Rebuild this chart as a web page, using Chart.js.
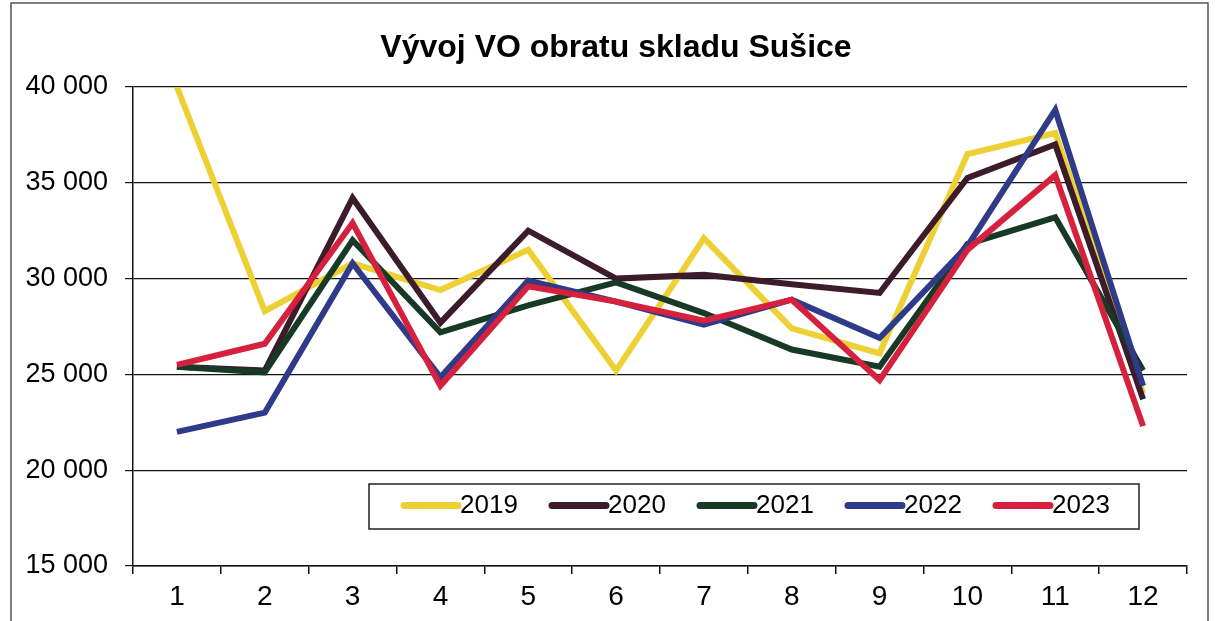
<!DOCTYPE html>
<html>
<head>
<meta charset="utf-8">
<script src="https://cdn.jsdelivr.net/npm/chart.js@4/dist/chart.umd.min.js"></script>
<style>
html,body{margin:0;padding:0;background:#fff;}
#wrap{position:relative;width:1216px;height:621px;}
</style>
</head>
<body>
<div id="wrap"><canvas id="c" width="1216" height="621"></canvas></div>
<script>
const titleText = "Vývoj VO obratu skladu Sušice";
const categories = ["1","2","3","4","5","6","7","8","9","10","11","12"];
const seriesNames = ["2019","2020","2021","2022","2023"];
const v2019 = [40000,28300,30800,29400,31500,25200,32100,27400,26100,36500,37600,24000];
const v2020 = [25400,25200,34200,27700,32500,30000,30200,29700,29250,35250,37000,23700];
const v2021 = [25400,25100,32000,27200,28600,29800,28200,26300,25400,31800,33200,25200];
const v2022 = [22000,23000,30800,24850,29900,28800,27600,28900,26900,31700,38800,24400];
const v2023 = [25500,26600,32900,24400,29600,28800,27800,28900,24700,31500,35400,22300];
const yTicks = [15000,20000,25000,30000,35000,40000];
const colors = ["#ecd034","#3c1b2a","#173a27","#2f3a88","#d6213e"];

const allValues = [v2019,v2020,v2021,v2022,v2023];

function fmt(v){ return String(v).replace(/\B(?=(\d{3})+(?!\d))/g, " "); }

const FONT = '"Liberation Sans", Arial, sans-serif';

const chromePlugin = {
  id: 'chrome',
  beforeDraw(chart){
    const ctx = chart.ctx;
    ctx.save();
    ctx.fillStyle = '#fff';
    ctx.fillRect(0,0,chart.width,chart.height);
    ctx.strokeStyle = '#555';
    ctx.lineWidth = 1.5;
    ctx.strokeRect(11, 3, 1197, 640);
    ctx.fillStyle = '#000';
    ctx.font = 'bold 32px ' + FONT;
    ctx.textAlign = 'center';
    ctx.textBaseline = 'middle';
    ctx.fillText(titleText, 616, 48);
    ctx.restore();
  },
  afterDatasetsDraw(chart){
    const ctx = chart.ctx;
    ctx.save();
    const bx = 369, by = 484, bw = 770, bh = 45;
    ctx.fillStyle = '#fff';
    ctx.fillRect(bx, by, bw, bh);
    ctx.strokeStyle = '#222';
    ctx.lineWidth = 1.5;
    ctx.strokeRect(bx, by, bw, bh);
    ctx.font = '26px ' + FONT;
    ctx.textBaseline = 'middle';
    ctx.textAlign = 'left';
    const cy = by + bh/2 - 1;
    let x = 401;
    chart.data.datasets.forEach((ds) => {
      ctx.strokeStyle = ds.borderColor;
      ctx.lineWidth = 7;
      ctx.lineCap = 'round';
      ctx.beginPath();
      ctx.moveTo(x + 3, cy);
      ctx.lineTo(x + 57, cy);
      ctx.stroke();
      ctx.fillStyle = '#000';
      ctx.fillText(ds.label, x + 59, cy);
      x += 148;
    });
    ctx.restore();
  }
};

new Chart(document.getElementById('c'), {
  type: 'line',
  data: {
    labels: categories,
    datasets: seriesNames.map((n, i) => ({
      label: n,
      data: allValues[i],
      borderColor: colors[i],
      backgroundColor: colors[i],
      borderWidth: 6,
      pointRadius: 0,
      tension: 0,
      order: 4 - i,
      borderJoinStyle: 'miter'
    }))
  },
  options: {
    responsive: false,
    animation: false,
    layout: { padding: { left: 0, right: 29, top: 87, bottom: 0 } },
    plugins: {
      legend: { display: false },
      title: { display: false },
      tooltip: { enabled: false }
    },
    scales: {
      x: {
        offset: true,
        grid: { display: true, drawOnChartArea: false, drawTicks: true, tickLength: 8, color: '#111', lineWidth: 1.5, offset: true },
        border: { display: true, color: '#111', width: 1.5 },
        ticks: { color: '#000', font: { size: 28, family: FONT }, padding: 6, maxRotation: 0 },
        afterFit(s){ s.height = 55; }
      },
      y: {
        min: 15000, max: 40000,
        afterBuildTicks(s){ s.ticks = yTicks.map(v => ({value: v})); },
        grid: { color: '#111', lineWidth: 1.2, drawTicks: true, tickLength: 8 },
        border: { display: true, color: '#111', width: 1.5 },
        ticks: { color: '#000', font: { size: 27, family: FONT }, padding: 17, callback: (v) => fmt(v) },
        afterFit(s){ s.width = 133; }
      }
    }
  },
  plugins: [chromePlugin]
});
</script>
</body>
</html>
